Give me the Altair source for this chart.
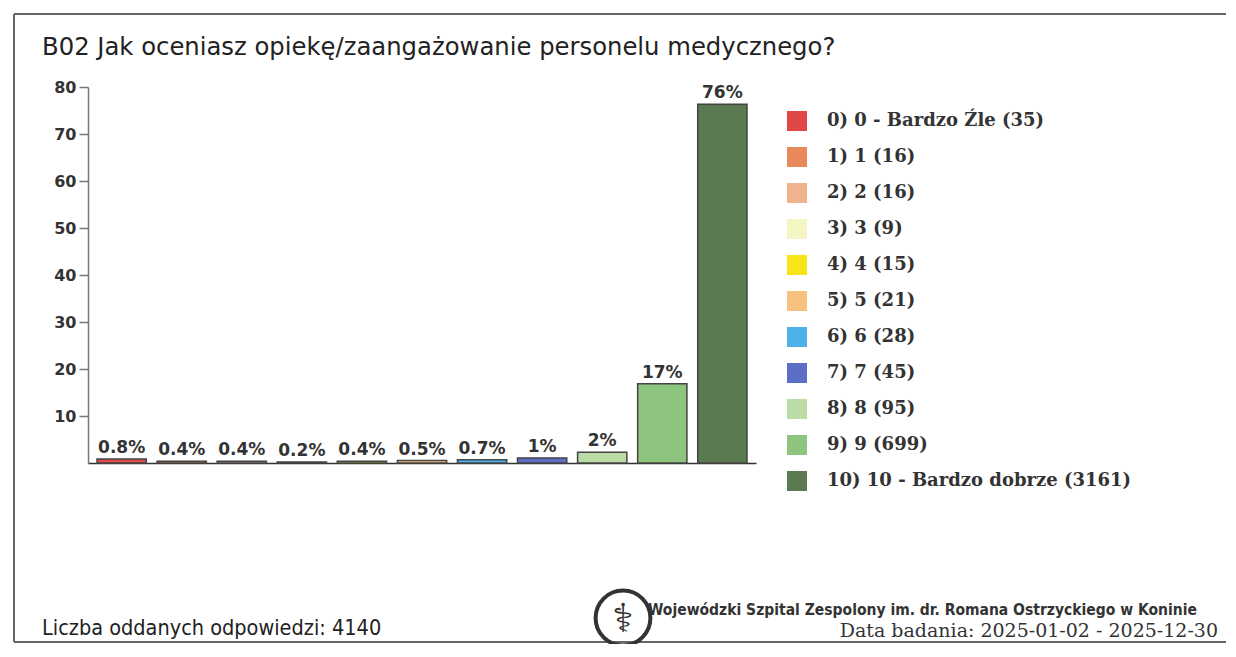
import altair as alt
import pandas as pd

# ---- data ----
categories = [
    "0) 0 - Bardzo Źle (35)",
    "1) 1 (16)",
    "2) 2 (16)",
    "3) 3 (9)",
    "4) 4 (15)",
    "5) 5 (21)",
    "6) 6 (28)",
    "7) 7 (45)",
    "8) 8 (95)",
    "9) 9 (699)",
    "10) 10 - Bardzo dobrze (3161)",
]
percent = [0.85, 0.39, 0.39, 0.22, 0.36, 0.51, 0.68, 1.09, 2.29, 16.88, 76.35]
pct_labels = ["0.8%", "0.4%", "0.4%", "0.2%", "0.4%", "0.5%", "0.7%", "1%", "2%", "17%", "76%"]
colors = ["#e04848", "#e8895c", "#efb48c", "#f3f6c2", "#f6e619", "#f5c17c",
          "#4db2ea", "#5b6fc6", "#bcdca6", "#8dc47e", "#5b7a51"]
y_ticks = [10, 20, 30, 40, 50, 60, 70, 80]

title_text = "B02 Jak oceniasz opiekę/zaangażowanie personelu medycznego?"
footer_left = "Liczba oddanych odpowiedzi: 4140"
footer_right1 = "Wojewódzki Szpital Zespolony im. dr. Romana Ostrzyckiego w Koninie"
footer_right2 = "Data badania: 2025-01-02 - 2025-12-30"

df = pd.DataFrame({"cat": categories, "pct": percent, "lbl": pct_labels})

W, H = 668, 376

x_enc = alt.X("cat:N", sort=categories,
              scale=alt.Scale(paddingInner=0.18, paddingOuter=0.15),
              axis=alt.Axis(labels=False, ticks=False, title=None,
                            domain=True, domainColor="#333", domainWidth=1.5))
y_enc = alt.Y("pct:Q", scale=alt.Scale(domain=[0, 80], nice=False),
              axis=alt.Axis(values=y_ticks, title=None, grid=False,
                            labelFont="DejaVu Sans", labelFontSize=16,
                            labelFontWeight="bold", labelColor="#333",
                            tickSize=9, tickColor="#777", tickWidth=1.5,
                            domainColor="#777", domainWidth=1.5, labelPadding=3))

bars = alt.Chart(df).mark_bar(stroke="#444", strokeWidth=1.5).encode(
    x=x_enc,
    y=y_enc,
    color=alt.Color("cat:N", sort=categories,
                    scale=alt.Scale(domain=categories, range=colors),
                    legend=alt.Legend(title=None, orient="none", legendX=699, legendY=24,
                                      symbolType="square", symbolSize=400,
                                      symbolStrokeWidth=0, symbolOpacity=1,
                                      labelFont="DejaVu Serif", labelFontSize=18,
                                      labelFontWeight="bold",
                                      labelColor="#333", rowPadding=16,
                                      labelOffset=20, labelLimit=500)),
)

texts = alt.Chart(df).mark_text(font="DejaVu Sans", fontSize=17, fontWeight="bold",
                                color="#333", baseline="alphabetic", dy=-6).encode(
    x=alt.X("cat:N", sort=categories),
    y="pct:Q",
    text="lbl:N",
)

ann = pd.DataFrame({"a": [0]})
base = alt.Chart(ann)

frame_top = base.mark_rule(stroke="#666", strokeWidth=2).encode(
    x=alt.value(-74), x2=alt.value(1200), y=alt.value(-73))
frame_left = base.mark_rule(stroke="#666", strokeWidth=2).encode(
    x=alt.value(-74), y=alt.value(-73), y2=alt.value(555))
frame_bottom = base.mark_rule(stroke="#666", strokeWidth=2).encode(
    x=alt.value(-74), x2=alt.value(1200), y=alt.value(555))

title = base.mark_text(text=title_text, font="DejaVu Sans", fontSize=24.3, color="#222",
                       align="left", baseline="alphabetic").encode(
    x=alt.value(-46), y=alt.value(-32))

fl = base.mark_text(text=footer_left, font="DejaVu Sans Condensed", fontSize=21.5,
                    color="#222", align="left", baseline="alphabetic").encode(
    x=alt.value(-46), y=alt.value(548))

fr1 = base.mark_text(text=footer_right1, font="DejaVu Sans Condensed", fontSize=15.5,
                     fontWeight="bold", color="#333", align="left",
                     baseline="alphabetic").encode(x=alt.value(560), y=alt.value(528))

fr2 = base.mark_text(text=footer_right2, font="DejaVu Serif", fontSize=19,
                     color="#333", align="right", baseline="alphabetic").encode(
    x=alt.value(1130), y=alt.value(550))

logo_ring = base.mark_point(shape="circle", filled=False, stroke="#333",
                            strokeWidth=4, size=3000, opacity=1).encode(
    x=alt.value(535), y=alt.value(531))
logo_sym = base.mark_text(text="⚕", font="DejaVu Sans", fontSize=40, color="#333").encode(
    x=alt.value(535), y=alt.value(533))

chart = alt.layer(frame_top, frame_left, frame_bottom, bars, texts, title, fl, fr1,
                  logo_ring, logo_sym, fr2).properties(
    width=W, height=H,
    autosize=alt.AutoSizeParams(type="none"),
    padding={"left": 80, "top": 79, "right": 470, "bottom": 181},
).configure(background="white").configure_view(stroke=None)

chart.save("out.html", embed_options={"renderer": "svg", "actions": False})
